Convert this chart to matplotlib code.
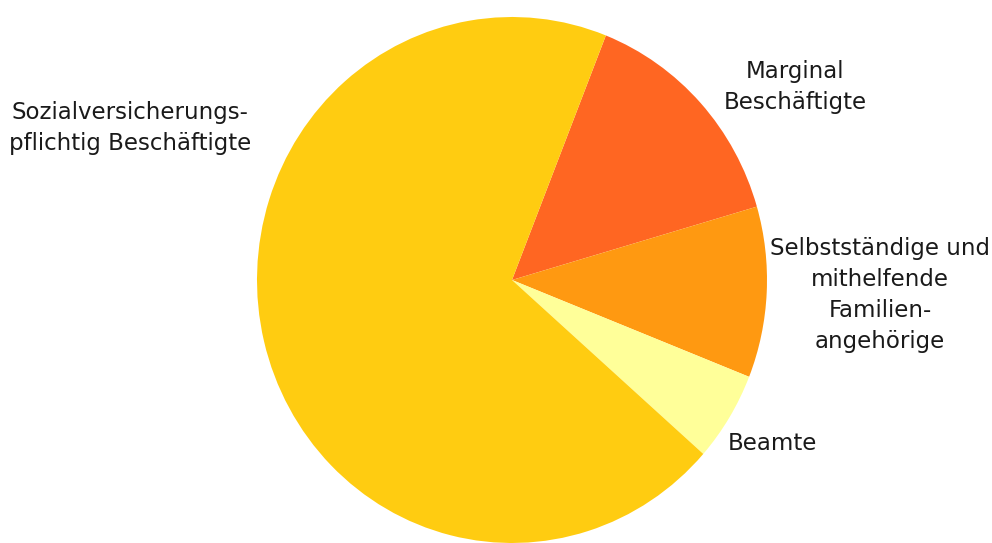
import matplotlib
matplotlib.use("Agg")
import matplotlib.pyplot as plt

# share of employed persons by type of employment (percent)
labels = ["Marginal\nBeschäftigte",
          "Selbstständige und\nmithelfende\nFamilien-\nangehörige",
          "Beamte",
          "Sozialversicherungs-\npflichtig Beschäftigte"]
values = [14.5, 10.5, 5.5, 69.5]
colors = ["#FF6622", "#FF9911", "#FFFF99", "#FFCC11"]

# label anchor points in pixels (x, y from top) and alignment
label_pos = [(795, 87, "center"), (880, 295, "center"), (728, 443, "left"), (130, 128, "center")]

W, H = 992, 543


def main():
    fig = plt.figure(figsize=(W / 100, H / 100), dpi=100)
    fig.patch.set_facecolor("white")

    # pie is slightly taller than wide: 255 px wide radius, 263 px tall radius
    cx, cy, rx, ry = 512, 280, 255, 263
    ax = fig.add_axes([(cx - rx) / W, 1 - (cy + ry) / H, 2 * rx / W, 2 * ry / H])
    ax.pie(values, colors=colors, startangle=68.4, counterclock=False,
           wedgeprops=dict(linewidth=0))
    ax.set_aspect("auto")
    ax.set_xlim(-1, 1)
    ax.set_ylim(-1, 1)
    ax.axis("off")

    for text, (x, y, ha) in zip(labels, label_pos):
        fig.text(x / W, 1 - y / H, text, ha=ha, va="center", multialignment="center",
                 fontsize=16.5, family="DejaVu Sans", color="#1a1a1a", linespacing=1.45)

    fig.savefig("out.png", dpi=100)


if __name__ == "__main__":
    main()
